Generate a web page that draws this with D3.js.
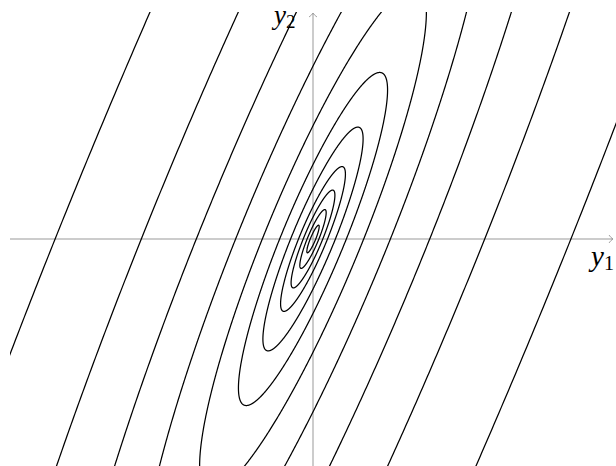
<!DOCTYPE html>
<html>
<head>
<meta charset="utf-8">
<script src="https://cdn.jsdelivr.net/npm/d3@7"></script>
<style>
  html, body { margin: 0; padding: 0; background: #fff; }
  svg { display: block; }
</style>
</head>
<body>
<svg id="chart" width="616" height="466"></svg>
<script>
// Quadratic form  Q(y1,y2) = qa*y1^2 + 2*qb*y1*y2 + qc*y2^2
const qa = 1.0;
const qb = -0.4;
const qc = 0.2;
// contour levels (values of Q)
const levels = [6.52, 2.89, 1.335, 0.587, 0.252, 0.109, 0.0492, 0.0206, 0.0094, 0.0034, 0.00075];
// plot domains
const xDomain = [-3, 3];
const yDomain = [-2.25, 2.25];
const axisLabels = ["y", "1", "y", "2"];

const W = 616, H = 466;
const svg = d3.select("#chart");

const x = d3.scaleLinear().domain(xDomain).range([10, 616]);
const y = d3.scaleLinear().domain(yDomain).range([466, 12]);

svg.append("defs").append("clipPath").attr("id", "clip")
  .append("rect")
  .attr("x", x(xDomain[0])).attr("y", y(yDomain[1]))
  .attr("width", x(xDomain[1]) - x(xDomain[0]))
  .attr("height", y(yDomain[0]) - y(yDomain[1]));

// axes
const axisColor = "#999";
const ax = svg.append("g");
ax.append("line")
  .attr("x1", x(xDomain[0])).attr("x2", x(xDomain[1]) - 3)
  .attr("y1", y(0)).attr("y2", y(0))
  .attr("stroke", axisColor).attr("stroke-width", 1);
ax.append("path")
  .attr("d", `M${x(xDomain[1]) - 7},${y(0) - 4} Q${x(xDomain[1]) - 5},${y(0) - 1} ${x(xDomain[1]) - 3},${y(0)} Q${x(xDomain[1]) - 5},${y(0) + 1} ${x(xDomain[1]) - 7},${y(0) + 4}`)
  .attr("fill", "none").attr("stroke", axisColor).attr("stroke-width", 0.9);
ax.append("line")
  .attr("x1", x(0)).attr("x2", x(0))
  .attr("y1", y(yDomain[0])).attr("y2", y(yDomain[1]) + 1)
  .attr("stroke", axisColor).attr("stroke-width", 1);
ax.append("path")
  .attr("d", `M${x(0) - 4},${y(yDomain[1]) + 5} Q${x(0) - 1},${y(yDomain[1]) + 3} ${x(0)},${y(yDomain[1]) + 1} Q${x(0) + 1},${y(yDomain[1]) + 3} ${x(0) + 4},${y(yDomain[1]) + 5}`)
  .attr("fill", "none").attr("stroke", axisColor).attr("stroke-width", 0.9);

// contours (ellipses)
const det = qc - qb * qb / qa;
const N = 1440;
const line = d3.line().x(d => x(d[0])).y(d => y(d[1])).curve(d3.curveLinearClosed);
const g = svg.append("g").attr("clip-path", "url(#clip)");
levels.forEach(L => {
  const pts = d3.range(N).map(i => {
    const t = 2 * Math.PI * i / N;
    const v = Math.sqrt(L / det) * Math.sin(t);
    const u = Math.sqrt(L / qa) * Math.cos(t);
    return [u - (qb / qa) * v, v];
  });
  g.append("path").attr("d", line(pts))
    .attr("fill", "none").attr("stroke", "#000").attr("stroke-width", 1.25);
});

// labels
const font = "'Liberation Serif', 'DejaVu Serif', serif";
const t1 = svg.append("text").attr("x", 591).attr("y", 266)
  .attr("font-family", font).attr("font-size", 29).attr("fill", "#000");
t1.append("tspan").attr("font-style", "italic").text(axisLabels[0]);
t1.append("tspan").attr("font-size", 20).attr("dy", 4).text(axisLabels[1]);

const t2 = svg.append("text").attr("x", 274).attr("y", 24)
  .attr("font-family", font).attr("font-size", 27).attr("fill", "#000");
t2.append("tspan").attr("font-style", "italic").text(axisLabels[2]);
t2.append("tspan").attr("font-size", 19).attr("dy", 4).text(axisLabels[3]);
</script>
</body>
</html>
